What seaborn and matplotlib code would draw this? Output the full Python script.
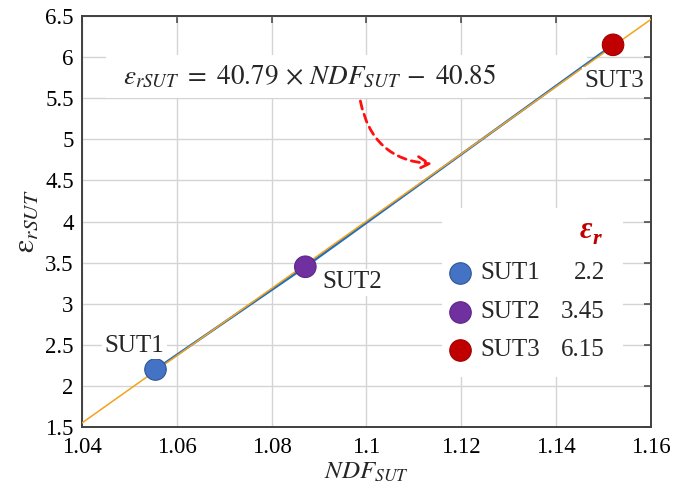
import numpy as np
import pandas as pd
import matplotlib
matplotlib.use("Agg")
import matplotlib.pyplot as plt
from matplotlib.patches import Rectangle
import seaborn as sns

# ---- data ----
suts = ["SUT1", "SUT2", "SUT3"]
ndf = [1.0555, 1.0871, 1.1520]
eps_r = [2.2, 3.45, 6.15]
eps_labels = ["2.2", "3.45", "6.15"]
sut_colors = ["#4472C4", "#7030A0", "#C00000"]
sut_edges = ["#2F5597", "#5B2585", "#A00000"]

# linear fit eps = 40.79 * NDF - 40.85, end points read at the axis limits
fit_x = [1.04, 1.16]
fit_y = [1.55, 6.46]

x_ticks = [1.04, 1.06, 1.08, 1.1, 1.12, 1.14, 1.16]
x_ticklabels = ["1.04", "1.06", "1.08", "1.1", "1.12", "1.14", "1.16"]
y_ticks = [1.5, 2, 2.5, 3, 3.5, 4, 4.5, 5, 5.5, 6, 6.5]
y_ticklabels = ["1.5", "2", "2.5", "3", "3.5", "4", "4.5", "5", "5.5", "6", "6.5"]

df = pd.DataFrame({"sut": suts, "ndf": ndf, "eps": eps_r})
fit = pd.DataFrame({"ndf": fit_x, "eps": fit_y})

sns.set_style("whitegrid")
plt.rcParams["font.family"] = ["Liberation Serif", "DejaVu Serif"]
plt.rcParams["mathtext.fontset"] = "stix"

fig = plt.figure(figsize=(6.76, 4.92), dpi=100)
ax = fig.add_axes([0.1213, 0.132, 0.8417, 0.8354])

# lines
sns.lineplot(data=df, x="ndf", y="eps", color="#1F6FC0", lw=1.8, ax=ax, zorder=3)
sns.lineplot(data=fit, x="ndf", y="eps", color="#F5A21B", lw=1.1, ax=ax, zorder=4)
sns.scatterplot(data=df, x="ndf", y="eps", hue="sut", palette=sut_colors, s=240,
                edgecolor=sut_edges, linewidth=0.8, legend=False, ax=ax, zorder=5)

ax.set_xlim(1.04, 1.16)
ax.set_ylim(1.5, 6.5)
ax.set_xticks(x_ticks)
ax.set_xticklabels(x_ticklabels)
ax.set_yticks(y_ticks)
ax.set_yticklabels(y_ticklabels)
ax.tick_params(direction="in", length=5, width=1.1, colors="#404040", labelcolor="black",
               labelsize=16.5, top=True, right=True)
ax.tick_params(axis="x", pad=7)
ax.tick_params(axis="y", pad=6)
ax.grid(True, color="#D4D4D4", lw=1.0, zorder=0)
ax.set_axisbelow(True)
for sp in ax.spines.values():
    sp.set_color("#404040")
    sp.set_linewidth(1.4)

ax.set_xlabel(r"$NDF_{SUT}$", fontsize=18, labelpad=2)
ax.set_ylabel(r"$\mathrm{\varepsilon}_{rSUT}$", fontsize=22, labelpad=3)

# point labels
offsets = [(-15, 17), (34, -11), (1, -26)]
for s, xv, yv, off in zip(suts, ndf, eps_r, offsets):
    ax.annotate(s, (xv, yv), xytext=off, textcoords="offset points", ha="center",
                va="center", fontsize=18, zorder=6,
                bbox=dict(boxstyle="square,pad=0.1", fc="white", ec="none"))

# equation box
ax.add_patch(Rectangle((0.042, 0.8005), 0.845, 0.1046, transform=ax.transAxes,
                       fc="white", ec="none", zorder=1))
ax.text(0.40, 0.852, r"$\varepsilon_{rSUT}\ =\ 40.79\,\times\,NDF_{SUT}\,-\ 40.85$",
        transform=ax.transAxes, ha="center", va="center", fontsize=19.5, zorder=6)

# dashed arrow to the fit line
ax.annotate("", xy=(1.1144, 4.70), xytext=(1.0986, 5.50),
            arrowprops=dict(arrowstyle="->,head_length=0.8,head_width=0.45", color="#FF1010",
                            lw=2, linestyle=(0, (3, 2)),
                            connectionstyle="arc3,rad=0.4"), zorder=6)

# legend-like table
ax.add_patch(Rectangle((0.6327, 0.1217), 0.318, 0.4112, transform=ax.transAxes,
                       fc="white", ec="none", zorder=1))
ax.text(0.897, 0.479, "ε", transform=ax.transAxes, ha="right", va="center",
        fontsize=22, color="#C00000", fontweight="bold", fontstyle="italic", zorder=6)
ax.text(0.897, 0.458, "r", transform=ax.transAxes, ha="left", va="center",
        fontsize=16, color="#C00000", fontweight="bold", fontstyle="italic", zorder=6)
row_y = [0.3747, 0.2798, 0.1873]
for s, lab, c, ec, yy in zip(suts, eps_labels, sut_colors, sut_edges, row_y):
    ax.scatter([0.6643], [yy], s=240, color=c, edgecolor=ec, linewidth=0.8,
               transform=ax.transAxes, zorder=6)
    ax.text(0.6995, yy, s, transform=ax.transAxes, ha="left", va="center",
            fontsize=18, zorder=6)
    ax.text(0.919, yy, lab, transform=ax.transAxes, ha="right", va="center",
            fontsize=18, zorder=6)

fig.savefig("out.png", dpi=100)
